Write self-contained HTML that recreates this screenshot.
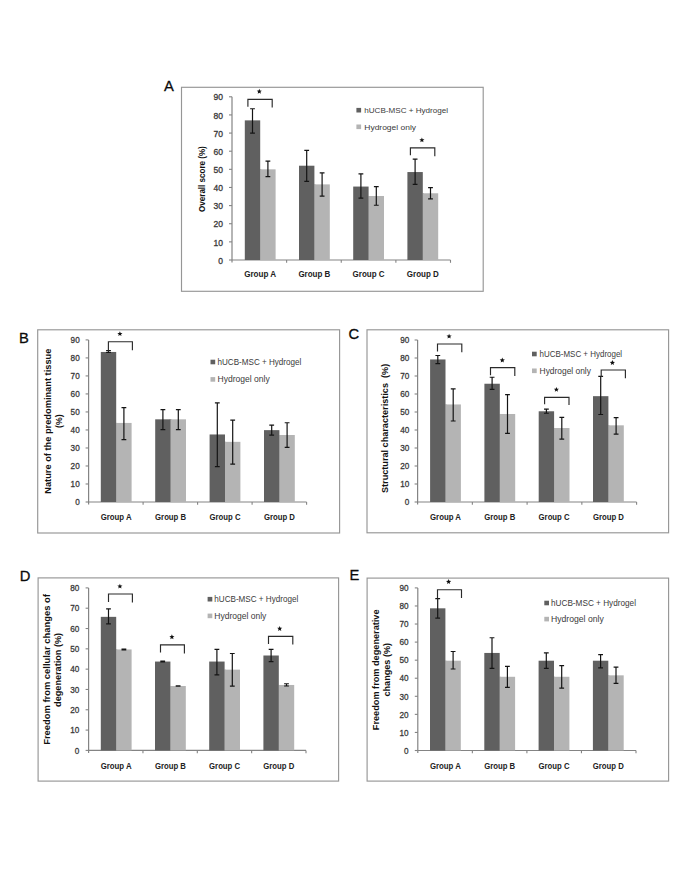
<!DOCTYPE html>
<html><head><meta charset="utf-8"><style>
html,body{margin:0;padding:0;background:#fff;width:685px;height:886px;overflow:hidden}
svg{display:block;font-family:"Liberation Sans", sans-serif}
</style></head><body>
<svg width="685" height="886" viewBox="0 0 685 886" font-family='"Liberation Sans", sans-serif'>
<rect width="685" height="886" fill="#fff"/>
<g><rect x="181.5" y="87.3" width="301.7" height="204" fill="none" stroke="#969696" stroke-width="1.15"/><text x="164" y="91.3" font-size="15.2" fill="#0a0a0a" stroke="#0a0a0a" stroke-width="0.3" textLength="9.83" lengthAdjust="spacingAndGlyphs">A</text><line x1="232" y1="96.8" x2="232" y2="262.5" stroke="#848484" stroke-width="1.2"/><line x1="229" y1="260" x2="232" y2="260" stroke="#848484" stroke-width="1.1"/><text x="222.9" y="263.65" font-size="8.2" fill="#3a3a3a" stroke="#3a3a3a" stroke-width="0.3" text-anchor="end" textLength="4.71" lengthAdjust="spacingAndGlyphs">0</text><line x1="229" y1="241.87" x2="232" y2="241.87" stroke="#848484" stroke-width="1.1"/><text x="222.9" y="245.52" font-size="8.2" fill="#3a3a3a" stroke="#3a3a3a" stroke-width="0.3" text-anchor="end" textLength="9.43" lengthAdjust="spacingAndGlyphs">10</text><line x1="229" y1="223.73" x2="232" y2="223.73" stroke="#848484" stroke-width="1.1"/><text x="222.9" y="227.39" font-size="8.2" fill="#3a3a3a" stroke="#3a3a3a" stroke-width="0.3" text-anchor="end" textLength="9.43" lengthAdjust="spacingAndGlyphs">20</text><line x1="229" y1="205.6" x2="232" y2="205.6" stroke="#848484" stroke-width="1.1"/><text x="222.9" y="209.25" font-size="8.2" fill="#3a3a3a" stroke="#3a3a3a" stroke-width="0.3" text-anchor="end" textLength="9.43" lengthAdjust="spacingAndGlyphs">30</text><line x1="229" y1="187.47" x2="232" y2="187.47" stroke="#848484" stroke-width="1.1"/><text x="222.9" y="191.12" font-size="8.2" fill="#3a3a3a" stroke="#3a3a3a" stroke-width="0.3" text-anchor="end" textLength="9.43" lengthAdjust="spacingAndGlyphs">40</text><line x1="229" y1="169.33" x2="232" y2="169.33" stroke="#848484" stroke-width="1.1"/><text x="222.9" y="172.99" font-size="8.2" fill="#3a3a3a" stroke="#3a3a3a" stroke-width="0.3" text-anchor="end" textLength="9.43" lengthAdjust="spacingAndGlyphs">50</text><line x1="229" y1="151.2" x2="232" y2="151.2" stroke="#848484" stroke-width="1.1"/><text x="222.9" y="154.85" font-size="8.2" fill="#3a3a3a" stroke="#3a3a3a" stroke-width="0.3" text-anchor="end" textLength="9.43" lengthAdjust="spacingAndGlyphs">60</text><line x1="229" y1="133.07" x2="232" y2="133.07" stroke="#848484" stroke-width="1.1"/><text x="222.9" y="136.72" font-size="8.2" fill="#3a3a3a" stroke="#3a3a3a" stroke-width="0.3" text-anchor="end" textLength="9.43" lengthAdjust="spacingAndGlyphs">70</text><line x1="229" y1="114.93" x2="232" y2="114.93" stroke="#848484" stroke-width="1.1"/><text x="222.9" y="118.59" font-size="8.2" fill="#3a3a3a" stroke="#3a3a3a" stroke-width="0.3" text-anchor="end" textLength="9.43" lengthAdjust="spacingAndGlyphs">80</text><line x1="229" y1="96.8" x2="232" y2="96.8" stroke="#848484" stroke-width="1.1"/><text x="222.9" y="100.45" font-size="8.2" fill="#3a3a3a" stroke="#3a3a3a" stroke-width="0.3" text-anchor="end" textLength="9.43" lengthAdjust="spacingAndGlyphs">90</text><line x1="232" y1="260" x2="450.5" y2="260" stroke="#848484" stroke-width="1.2"/><line x1="286.62" y1="260" x2="286.62" y2="262.8" stroke="#848484" stroke-width="1.1"/><line x1="341.25" y1="260" x2="341.25" y2="262.8" stroke="#848484" stroke-width="1.1"/><line x1="395.88" y1="260" x2="395.88" y2="262.8" stroke="#848484" stroke-width="1.1"/><line x1="450.5" y1="260" x2="450.5" y2="262.8" stroke="#848484" stroke-width="1.1"/><rect x="259.2" y="169.33" width="2" height="90.67" fill="#8a8a8a"/><rect x="244.8" y="120.37" width="15.4" height="139.63" fill="#606060"/><rect x="260.2" y="169.33" width="15.4" height="90.67" fill="#b4b4b4"/><path d="M252.5 108.77V133.07M250.1 108.77H254.9M250.1 133.07H254.9" stroke="#141414" stroke-width="1.2" fill="none"/><path d="M267.9 161.17V176.59M265.5 161.17H270.3M265.5 176.59H270.3" stroke="#141414" stroke-width="1.2" fill="none"/><text x="260.2" y="277" font-size="8.6" font-weight="bold" fill="#222" text-anchor="middle" textLength="32" lengthAdjust="spacingAndGlyphs">Group A</text><rect x="313.4" y="184.38" width="2" height="75.62" fill="#8a8a8a"/><rect x="299" y="165.71" width="15.4" height="94.29" fill="#606060"/><rect x="314.4" y="184.38" width="15.4" height="75.62" fill="#b4b4b4"/><path d="M306.7 150.47V181.3M304.3 150.47H309.1M304.3 181.3H309.1" stroke="#141414" stroke-width="1.2" fill="none"/><path d="M322.1 172.78V196.17M319.7 172.78H324.5M319.7 196.17H324.5" stroke="#141414" stroke-width="1.2" fill="none"/><text x="314.4" y="277" font-size="8.6" font-weight="bold" fill="#222" text-anchor="middle" textLength="32" lengthAdjust="spacingAndGlyphs">Group B</text><rect x="367.6" y="195.99" width="2" height="64.01" fill="#8a8a8a"/><rect x="353.2" y="186.56" width="15.4" height="73.44" fill="#606060"/><rect x="368.6" y="195.99" width="15.4" height="64.01" fill="#b4b4b4"/><path d="M360.9 173.87V198.17M358.5 173.87H363.3M358.5 198.17H363.3" stroke="#141414" stroke-width="1.2" fill="none"/><path d="M376.3 186.56V205.24M373.9 186.56H378.7M373.9 205.24H378.7" stroke="#141414" stroke-width="1.2" fill="none"/><text x="368.6" y="277" font-size="8.6" font-weight="bold" fill="#222" text-anchor="middle" textLength="32" lengthAdjust="spacingAndGlyphs">Group C</text><rect x="421.8" y="193.27" width="2" height="66.73" fill="#8a8a8a"/><rect x="407.4" y="172.05" width="15.4" height="87.95" fill="#606060"/><rect x="422.8" y="193.27" width="15.4" height="66.73" fill="#b4b4b4"/><path d="M415.1 159.18V184.38M412.7 159.18H417.5M412.7 184.38H417.5" stroke="#141414" stroke-width="1.2" fill="none"/><path d="M430.5 187.65V198.89M428.1 187.65H432.9M428.1 198.89H432.9" stroke="#141414" stroke-width="1.2" fill="none"/><text x="422.8" y="277" font-size="8.6" font-weight="bold" fill="#222" text-anchor="middle" textLength="32" lengthAdjust="spacingAndGlyphs">Group D</text><path d="M247.9 106.8V99.3H272.2V107.6" stroke="#2a2a2a" stroke-width="1.15" fill="none"/><polygon points="259.30,88.80 260.01,90.53 261.87,90.67 260.44,91.87 260.89,93.68 259.30,92.70 257.71,93.68 258.16,91.87 256.73,90.67 258.59,90.53" fill="#111"/><path d="M410.4 155.3V147.9H434.8V156.2" stroke="#2a2a2a" stroke-width="1.15" fill="none"/><polygon points="421.90,137.40 422.61,139.13 424.47,139.27 423.04,140.47 423.49,142.28 421.90,141.30 420.31,142.28 420.76,140.47 419.33,139.27 421.19,139.13" fill="#111"/><rect x="356.4" y="107.9" width="4.7" height="4.6" fill="#606060"/><rect x="356.4" y="124.5" width="4.7" height="4.6" fill="#b4b4b4"/><text x="364.3" y="112.9" font-size="7.6" fill="#3a3a3a" textLength="83.7" lengthAdjust="spacingAndGlyphs">hUCB-MSC + Hydrogel</text><text x="364.3" y="129.5" font-size="7.6" fill="#3a3a3a" textLength="51.7" lengthAdjust="spacingAndGlyphs">Hydrogel only</text><text transform="translate(204.6,179.1) rotate(-90)" x="0" y="0" font-size="8.4" font-weight="bold" fill="#111" text-anchor="middle" textLength="65.7" lengthAdjust="spacingAndGlyphs">Overall score (%)</text></g>
<g><rect x="37.7" y="329.8" width="301.9" height="203.2" fill="none" stroke="#969696" stroke-width="1.15"/><text x="18.9" y="342.8" font-size="15.2" fill="#0a0a0a" stroke="#0a0a0a" stroke-width="0.3" textLength="9.83" lengthAdjust="spacingAndGlyphs">B</text><line x1="88.6" y1="339.9" x2="88.6" y2="504.5" stroke="#848484" stroke-width="1.2"/><line x1="85.6" y1="502" x2="88.6" y2="502" stroke="#848484" stroke-width="1.1"/><text x="79.7" y="505.24" font-size="9" fill="#3a3a3a" stroke="#3a3a3a" stroke-width="0.3" text-anchor="end" textLength="4.54" lengthAdjust="spacingAndGlyphs">0</text><line x1="85.6" y1="483.99" x2="88.6" y2="483.99" stroke="#848484" stroke-width="1.1"/><text x="79.7" y="487.23" font-size="9" fill="#3a3a3a" stroke="#3a3a3a" stroke-width="0.3" text-anchor="end" textLength="9.09" lengthAdjust="spacingAndGlyphs">10</text><line x1="85.6" y1="465.98" x2="88.6" y2="465.98" stroke="#848484" stroke-width="1.1"/><text x="79.7" y="469.22" font-size="9" fill="#3a3a3a" stroke="#3a3a3a" stroke-width="0.3" text-anchor="end" textLength="9.09" lengthAdjust="spacingAndGlyphs">20</text><line x1="85.6" y1="447.97" x2="88.6" y2="447.97" stroke="#848484" stroke-width="1.1"/><text x="79.7" y="451.21" font-size="9" fill="#3a3a3a" stroke="#3a3a3a" stroke-width="0.3" text-anchor="end" textLength="9.09" lengthAdjust="spacingAndGlyphs">30</text><line x1="85.6" y1="429.96" x2="88.6" y2="429.96" stroke="#848484" stroke-width="1.1"/><text x="79.7" y="433.2" font-size="9" fill="#3a3a3a" stroke="#3a3a3a" stroke-width="0.3" text-anchor="end" textLength="9.09" lengthAdjust="spacingAndGlyphs">40</text><line x1="85.6" y1="411.94" x2="88.6" y2="411.94" stroke="#848484" stroke-width="1.1"/><text x="79.7" y="415.18" font-size="9" fill="#3a3a3a" stroke="#3a3a3a" stroke-width="0.3" text-anchor="end" textLength="9.09" lengthAdjust="spacingAndGlyphs">50</text><line x1="85.6" y1="393.93" x2="88.6" y2="393.93" stroke="#848484" stroke-width="1.1"/><text x="79.7" y="397.17" font-size="9" fill="#3a3a3a" stroke="#3a3a3a" stroke-width="0.3" text-anchor="end" textLength="9.09" lengthAdjust="spacingAndGlyphs">60</text><line x1="85.6" y1="375.92" x2="88.6" y2="375.92" stroke="#848484" stroke-width="1.1"/><text x="79.7" y="379.16" font-size="9" fill="#3a3a3a" stroke="#3a3a3a" stroke-width="0.3" text-anchor="end" textLength="9.09" lengthAdjust="spacingAndGlyphs">70</text><line x1="85.6" y1="357.91" x2="88.6" y2="357.91" stroke="#848484" stroke-width="1.1"/><text x="79.7" y="361.15" font-size="9" fill="#3a3a3a" stroke="#3a3a3a" stroke-width="0.3" text-anchor="end" textLength="9.09" lengthAdjust="spacingAndGlyphs">80</text><line x1="85.6" y1="339.9" x2="88.6" y2="339.9" stroke="#848484" stroke-width="1.1"/><text x="79.7" y="343.14" font-size="9" fill="#3a3a3a" stroke="#3a3a3a" stroke-width="0.3" text-anchor="end" textLength="9.09" lengthAdjust="spacingAndGlyphs">90</text><line x1="88.6" y1="502" x2="306.6" y2="502" stroke="#848484" stroke-width="1.2"/><line x1="143.1" y1="502" x2="143.1" y2="504.8" stroke="#848484" stroke-width="1.1"/><line x1="197.6" y1="502" x2="197.6" y2="504.8" stroke="#848484" stroke-width="1.1"/><line x1="252.1" y1="502" x2="252.1" y2="504.8" stroke="#848484" stroke-width="1.1"/><line x1="306.6" y1="502" x2="306.6" y2="504.8" stroke="#848484" stroke-width="1.1"/><rect x="115.2" y="422.93" width="2" height="79.07" fill="#8a8a8a"/><rect x="100.8" y="351.97" width="15.4" height="150.03" fill="#606060"/><rect x="116.2" y="422.93" width="15.4" height="79.07" fill="#b4b4b4"/><path d="M108.5 350.71V352.51M106.1 350.71H110.9M106.1 352.51H110.9" stroke="#141414" stroke-width="1.2" fill="none"/><path d="M123.9 407.62V439.68M121.5 407.62H126.3M121.5 439.68H126.3" stroke="#141414" stroke-width="1.2" fill="none"/><text x="116.2" y="520.1" font-size="8.6" font-weight="bold" fill="#222" text-anchor="middle" textLength="31" lengthAdjust="spacingAndGlyphs">Group A</text><rect x="169.6" y="419.33" width="2" height="82.67" fill="#8a8a8a"/><rect x="155.2" y="419.33" width="15.4" height="82.67" fill="#606060"/><rect x="170.6" y="419.33" width="15.4" height="82.67" fill="#b4b4b4"/><path d="M162.9 409.6V429.6M160.5 409.6H165.3M160.5 429.6H165.3" stroke="#141414" stroke-width="1.2" fill="none"/><path d="M178.3 409.6V429.6M175.9 409.6H180.7M175.9 429.6H180.7" stroke="#141414" stroke-width="1.2" fill="none"/><text x="170.6" y="520.1" font-size="8.6" font-weight="bold" fill="#222" text-anchor="middle" textLength="31" lengthAdjust="spacingAndGlyphs">Group B</text><rect x="224" y="441.84" width="2" height="60.16" fill="#8a8a8a"/><rect x="209.6" y="434.46" width="15.4" height="67.54" fill="#606060"/><rect x="225" y="441.84" width="15.4" height="60.16" fill="#b4b4b4"/><path d="M217.3 402.94V466.7M214.9 402.94H219.7M214.9 466.7H219.7" stroke="#141414" stroke-width="1.2" fill="none"/><path d="M232.7 420.05V464.18M230.3 420.05H235.1M230.3 464.18H235.1" stroke="#141414" stroke-width="1.2" fill="none"/><text x="225" y="520.1" font-size="8.6" font-weight="bold" fill="#222" text-anchor="middle" textLength="31" lengthAdjust="spacingAndGlyphs">Group C</text><rect x="278.4" y="435" width="2" height="67" fill="#8a8a8a"/><rect x="264" y="430.14" width="15.4" height="71.86" fill="#606060"/><rect x="279.4" y="435" width="15.4" height="67" fill="#b4b4b4"/><path d="M271.7 425.09V435.18M269.3 425.09H274.1M269.3 435.18H274.1" stroke="#141414" stroke-width="1.2" fill="none"/><path d="M287.1 422.75V447.43M284.7 422.75H289.5M284.7 447.43H289.5" stroke="#141414" stroke-width="1.2" fill="none"/><text x="279.4" y="520.1" font-size="8.6" font-weight="bold" fill="#222" text-anchor="middle" textLength="31" lengthAdjust="spacingAndGlyphs">Group D</text><path d="M108.4 351.5V341.7H132.4V350.2" stroke="#2a2a2a" stroke-width="1.15" fill="none"/><polygon points="119.90,331.20 120.61,332.93 122.47,333.07 121.04,334.27 121.49,336.08 119.90,335.10 118.31,336.08 118.76,334.27 117.33,333.07 119.19,332.93" fill="#111"/><rect x="210.5" y="359.7" width="4.7" height="4.6" fill="#606060"/><rect x="210.5" y="377.1" width="4.7" height="4.6" fill="#b4b4b4"/><text x="217.5" y="364.7" font-size="8.6" fill="#3a3a3a" textLength="83.8" lengthAdjust="spacingAndGlyphs">hUCB-MSC + Hydrogel</text><text x="217.5" y="382.1" font-size="8.6" fill="#3a3a3a" textLength="52.2" lengthAdjust="spacingAndGlyphs">Hydrogel only</text><text transform="translate(50.6,421.2) rotate(-90)" x="0" y="0" font-size="8.4" font-weight="bold" fill="#111" text-anchor="middle" textLength="145.1" lengthAdjust="spacingAndGlyphs">Nature of the predominant tissue</text><text transform="translate(61.6,421.2) rotate(-90)" x="0" y="0" font-size="8.4" font-weight="bold" fill="#111" text-anchor="middle" textLength="13.4" lengthAdjust="spacingAndGlyphs">(%)</text></g>
<g><rect x="367" y="329.8" width="301.6" height="203" fill="none" stroke="#969696" stroke-width="1.15"/><text x="348.6" y="339.2" font-size="15.2" fill="#0a0a0a" stroke="#0a0a0a" stroke-width="0.3" textLength="10.65" lengthAdjust="spacingAndGlyphs">C</text><line x1="417.6" y1="340" x2="417.6" y2="504.5" stroke="#848484" stroke-width="1.2"/><line x1="414.6" y1="502" x2="417.6" y2="502" stroke="#848484" stroke-width="1.1"/><text x="409.3" y="505.24" font-size="9" fill="#3a3a3a" stroke="#3a3a3a" stroke-width="0.3" text-anchor="end" textLength="4.54" lengthAdjust="spacingAndGlyphs">0</text><line x1="414.6" y1="484" x2="417.6" y2="484" stroke="#848484" stroke-width="1.1"/><text x="409.3" y="487.24" font-size="9" fill="#3a3a3a" stroke="#3a3a3a" stroke-width="0.3" text-anchor="end" textLength="9.09" lengthAdjust="spacingAndGlyphs">10</text><line x1="414.6" y1="466" x2="417.6" y2="466" stroke="#848484" stroke-width="1.1"/><text x="409.3" y="469.24" font-size="9" fill="#3a3a3a" stroke="#3a3a3a" stroke-width="0.3" text-anchor="end" textLength="9.09" lengthAdjust="spacingAndGlyphs">20</text><line x1="414.6" y1="448" x2="417.6" y2="448" stroke="#848484" stroke-width="1.1"/><text x="409.3" y="451.24" font-size="9" fill="#3a3a3a" stroke="#3a3a3a" stroke-width="0.3" text-anchor="end" textLength="9.09" lengthAdjust="spacingAndGlyphs">30</text><line x1="414.6" y1="430" x2="417.6" y2="430" stroke="#848484" stroke-width="1.1"/><text x="409.3" y="433.24" font-size="9" fill="#3a3a3a" stroke="#3a3a3a" stroke-width="0.3" text-anchor="end" textLength="9.09" lengthAdjust="spacingAndGlyphs">40</text><line x1="414.6" y1="412" x2="417.6" y2="412" stroke="#848484" stroke-width="1.1"/><text x="409.3" y="415.24" font-size="9" fill="#3a3a3a" stroke="#3a3a3a" stroke-width="0.3" text-anchor="end" textLength="9.09" lengthAdjust="spacingAndGlyphs">50</text><line x1="414.6" y1="394" x2="417.6" y2="394" stroke="#848484" stroke-width="1.1"/><text x="409.3" y="397.24" font-size="9" fill="#3a3a3a" stroke="#3a3a3a" stroke-width="0.3" text-anchor="end" textLength="9.09" lengthAdjust="spacingAndGlyphs">60</text><line x1="414.6" y1="376" x2="417.6" y2="376" stroke="#848484" stroke-width="1.1"/><text x="409.3" y="379.24" font-size="9" fill="#3a3a3a" stroke="#3a3a3a" stroke-width="0.3" text-anchor="end" textLength="9.09" lengthAdjust="spacingAndGlyphs">70</text><line x1="414.6" y1="358" x2="417.6" y2="358" stroke="#848484" stroke-width="1.1"/><text x="409.3" y="361.24" font-size="9" fill="#3a3a3a" stroke="#3a3a3a" stroke-width="0.3" text-anchor="end" textLength="9.09" lengthAdjust="spacingAndGlyphs">80</text><line x1="414.6" y1="340" x2="417.6" y2="340" stroke="#848484" stroke-width="1.1"/><text x="409.3" y="343.24" font-size="9" fill="#3a3a3a" stroke="#3a3a3a" stroke-width="0.3" text-anchor="end" textLength="9.09" lengthAdjust="spacingAndGlyphs">90</text><line x1="417.6" y1="502" x2="636.6" y2="502" stroke="#848484" stroke-width="1.2"/><line x1="472.35" y1="502" x2="472.35" y2="504.8" stroke="#848484" stroke-width="1.1"/><line x1="527.1" y1="502" x2="527.1" y2="504.8" stroke="#848484" stroke-width="1.1"/><line x1="581.85" y1="502" x2="581.85" y2="504.8" stroke="#848484" stroke-width="1.1"/><line x1="636.6" y1="502" x2="636.6" y2="504.8" stroke="#848484" stroke-width="1.1"/><rect x="444.5" y="404.44" width="2" height="97.56" fill="#8a8a8a"/><rect x="430.1" y="359.44" width="15.4" height="142.56" fill="#606060"/><rect x="445.5" y="404.44" width="15.4" height="97.56" fill="#b4b4b4"/><path d="M437.8 355.48V363.58M435.4 355.48H440.2M435.4 363.58H440.2" stroke="#141414" stroke-width="1.2" fill="none"/><path d="M453.2 388.78V421M450.8 388.78H455.6M450.8 421H455.6" stroke="#141414" stroke-width="1.2" fill="none"/><text x="445.5" y="519.8" font-size="8.6" font-weight="bold" fill="#222" text-anchor="middle" textLength="31" lengthAdjust="spacingAndGlyphs">Group A</text><rect x="498.8" y="413.98" width="2" height="88.02" fill="#8a8a8a"/><rect x="484.4" y="383.74" width="15.4" height="118.26" fill="#606060"/><rect x="499.8" y="413.98" width="15.4" height="88.02" fill="#b4b4b4"/><path d="M492.1 377.26V389.32M489.7 377.26H494.5M489.7 389.32H494.5" stroke="#141414" stroke-width="1.2" fill="none"/><path d="M507.5 394.72V433.42M505.1 394.72H509.9M505.1 433.42H509.9" stroke="#141414" stroke-width="1.2" fill="none"/><text x="499.8" y="519.8" font-size="8.6" font-weight="bold" fill="#222" text-anchor="middle" textLength="31" lengthAdjust="spacingAndGlyphs">Group B</text><rect x="553.1" y="428.02" width="2" height="73.98" fill="#8a8a8a"/><rect x="538.7" y="411.28" width="15.4" height="90.72" fill="#606060"/><rect x="554.1" y="428.02" width="15.4" height="73.98" fill="#b4b4b4"/><path d="M546.4 409.12V413.26M544 409.12H548.8M544 413.26H548.8" stroke="#141414" stroke-width="1.2" fill="none"/><path d="M561.8 417.4V439.18M559.4 417.4H564.2M559.4 439.18H564.2" stroke="#141414" stroke-width="1.2" fill="none"/><text x="554.1" y="519.8" font-size="8.6" font-weight="bold" fill="#222" text-anchor="middle" textLength="31" lengthAdjust="spacingAndGlyphs">Group C</text><rect x="607.4" y="425.32" width="2" height="76.68" fill="#8a8a8a"/><rect x="593" y="396.16" width="15.4" height="105.84" fill="#606060"/><rect x="608.4" y="425.32" width="15.4" height="76.68" fill="#b4b4b4"/><path d="M600.7 376.36V414.52M598.3 376.36H603.1M598.3 414.52H603.1" stroke="#141414" stroke-width="1.2" fill="none"/><path d="M616.1 417.58V434.14M613.7 417.58H618.5M613.7 434.14H618.5" stroke="#141414" stroke-width="1.2" fill="none"/><text x="608.4" y="519.8" font-size="8.6" font-weight="bold" fill="#222" text-anchor="middle" textLength="31" lengthAdjust="spacingAndGlyphs">Group D</text><path d="M437.5 351.6V344H461.8V352.2" stroke="#2a2a2a" stroke-width="1.15" fill="none"/><polygon points="449.10,333.70 449.81,335.43 451.67,335.57 450.24,336.77 450.69,338.58 449.10,337.60 447.51,338.58 447.96,336.77 446.53,335.57 448.39,335.43" fill="#111"/><path d="M490.5 375.2V367.6H514.8V376" stroke="#2a2a2a" stroke-width="1.15" fill="none"/><polygon points="502.30,357.60 503.01,359.33 504.87,359.47 503.44,360.67 503.89,362.48 502.30,361.50 500.71,362.48 501.16,360.67 499.73,359.47 501.59,359.33" fill="#111"/><path d="M544.6 404.3V397.3H569V405.1" stroke="#2a2a2a" stroke-width="1.15" fill="none"/><polygon points="556.40,386.90 557.11,388.63 558.97,388.77 557.54,389.97 557.99,391.78 556.40,390.80 554.81,391.78 555.26,389.97 553.83,388.77 555.69,388.63" fill="#111"/><path d="M601.2 377V370H625.4V378.2" stroke="#2a2a2a" stroke-width="1.15" fill="none"/><polygon points="612.40,360.10 613.11,361.83 614.97,361.97 613.54,363.17 613.99,364.98 612.40,364.00 610.81,364.98 611.26,363.17 609.83,361.97 611.69,361.83" fill="#111"/><rect x="532" y="351.7" width="4.7" height="4.6" fill="#606060"/><rect x="532" y="368.5" width="4.7" height="4.6" fill="#b4b4b4"/><text x="539.6" y="356.7" font-size="8.6" fill="#3a3a3a" textLength="82.5" lengthAdjust="spacingAndGlyphs">hUCB-MSC + Hydrogel</text><text x="539.6" y="373.5" font-size="8.6" fill="#3a3a3a" textLength="51.3" lengthAdjust="spacingAndGlyphs">Hydrogel only</text><text transform="translate(387.5,428.4) rotate(-90)" x="0" y="0" font-size="8.4" font-weight="bold" fill="#111" text-anchor="middle" textLength="129.2" lengthAdjust="spacingAndGlyphs">Structural characteristics&#160; (%)</text></g>
<g><rect x="38.1" y="577.9" width="300.5" height="203.2" fill="none" stroke="#969696" stroke-width="1.15"/><text x="19.8" y="581.3" font-size="15.2" fill="#0a0a0a" stroke="#0a0a0a" stroke-width="0.3" textLength="10.65" lengthAdjust="spacingAndGlyphs">D</text><line x1="88.6" y1="587.9" x2="88.6" y2="752.9" stroke="#848484" stroke-width="1.2"/><line x1="85.6" y1="750.4" x2="88.6" y2="750.4" stroke="#848484" stroke-width="1.1"/><text x="79.3" y="753.64" font-size="9" fill="#3a3a3a" stroke="#3a3a3a" stroke-width="0.3" text-anchor="end" textLength="4.54" lengthAdjust="spacingAndGlyphs">0</text><line x1="85.6" y1="730.09" x2="88.6" y2="730.09" stroke="#848484" stroke-width="1.1"/><text x="79.3" y="733.33" font-size="9" fill="#3a3a3a" stroke="#3a3a3a" stroke-width="0.3" text-anchor="end" textLength="9.09" lengthAdjust="spacingAndGlyphs">10</text><line x1="85.6" y1="709.77" x2="88.6" y2="709.77" stroke="#848484" stroke-width="1.1"/><text x="79.3" y="713.01" font-size="9" fill="#3a3a3a" stroke="#3a3a3a" stroke-width="0.3" text-anchor="end" textLength="9.09" lengthAdjust="spacingAndGlyphs">20</text><line x1="85.6" y1="689.46" x2="88.6" y2="689.46" stroke="#848484" stroke-width="1.1"/><text x="79.3" y="692.7" font-size="9" fill="#3a3a3a" stroke="#3a3a3a" stroke-width="0.3" text-anchor="end" textLength="9.09" lengthAdjust="spacingAndGlyphs">30</text><line x1="85.6" y1="669.15" x2="88.6" y2="669.15" stroke="#848484" stroke-width="1.1"/><text x="79.3" y="672.39" font-size="9" fill="#3a3a3a" stroke="#3a3a3a" stroke-width="0.3" text-anchor="end" textLength="9.09" lengthAdjust="spacingAndGlyphs">40</text><line x1="85.6" y1="648.84" x2="88.6" y2="648.84" stroke="#848484" stroke-width="1.1"/><text x="79.3" y="652.08" font-size="9" fill="#3a3a3a" stroke="#3a3a3a" stroke-width="0.3" text-anchor="end" textLength="9.09" lengthAdjust="spacingAndGlyphs">50</text><line x1="85.6" y1="628.52" x2="88.6" y2="628.52" stroke="#848484" stroke-width="1.1"/><text x="79.3" y="631.76" font-size="9" fill="#3a3a3a" stroke="#3a3a3a" stroke-width="0.3" text-anchor="end" textLength="9.09" lengthAdjust="spacingAndGlyphs">60</text><line x1="85.6" y1="608.21" x2="88.6" y2="608.21" stroke="#848484" stroke-width="1.1"/><text x="79.3" y="611.45" font-size="9" fill="#3a3a3a" stroke="#3a3a3a" stroke-width="0.3" text-anchor="end" textLength="9.09" lengthAdjust="spacingAndGlyphs">70</text><line x1="85.6" y1="587.9" x2="88.6" y2="587.9" stroke="#848484" stroke-width="1.1"/><text x="79.3" y="591.14" font-size="9" fill="#3a3a3a" stroke="#3a3a3a" stroke-width="0.3" text-anchor="end" textLength="9.09" lengthAdjust="spacingAndGlyphs">80</text><line x1="88.6" y1="750.4" x2="306" y2="750.4" stroke="#848484" stroke-width="1.2"/><line x1="142.95" y1="750.4" x2="142.95" y2="753.2" stroke="#848484" stroke-width="1.1"/><line x1="197.3" y1="750.4" x2="197.3" y2="753.2" stroke="#848484" stroke-width="1.1"/><line x1="251.65" y1="750.4" x2="251.65" y2="753.2" stroke="#848484" stroke-width="1.1"/><line x1="306" y1="750.4" x2="306" y2="753.2" stroke="#848484" stroke-width="1.1"/><rect x="115.2" y="649.45" width="2" height="100.95" fill="#8a8a8a"/><rect x="100.8" y="616.85" width="15.4" height="133.55" fill="#606060"/><rect x="116.2" y="649.45" width="15.4" height="100.95" fill="#b4b4b4"/><path d="M108.5 608.86V623.81M106.1 608.86H110.9M106.1 623.81H110.9" stroke="#141414" stroke-width="1.2" fill="none"/><path d="M123.9 649.04V649.85M121.5 649.04H126.3M121.5 649.85H126.3" stroke="#141414" stroke-width="1.2" fill="none"/><text x="116.2" y="768.6" font-size="8.6" font-weight="bold" fill="#222" text-anchor="middle" textLength="31" lengthAdjust="spacingAndGlyphs">Group A</text><rect x="169.4" y="685.99" width="2" height="64.41" fill="#8a8a8a"/><rect x="155" y="661.55" width="15.4" height="88.85" fill="#606060"/><rect x="170.4" y="685.99" width="15.4" height="64.41" fill="#b4b4b4"/><path d="M162.7 661.17V661.96M160.3 661.17H165.1M160.3 661.96H165.1" stroke="#141414" stroke-width="1.2" fill="none"/><path d="M178.1 685.79V686.19M175.7 685.79H180.5M175.7 686.19H180.5" stroke="#141414" stroke-width="1.2" fill="none"/><text x="170.4" y="768.6" font-size="8.6" font-weight="bold" fill="#222" text-anchor="middle" textLength="31" lengthAdjust="spacingAndGlyphs">Group B</text><rect x="223.6" y="669.64" width="2" height="80.76" fill="#8a8a8a"/><rect x="209.2" y="661.55" width="15.4" height="88.85" fill="#606060"/><rect x="224.6" y="669.64" width="15.4" height="80.76" fill="#b4b4b4"/><path d="M216.9 649.45V674.88M214.5 649.45H219.3M214.5 674.88H219.3" stroke="#141414" stroke-width="1.2" fill="none"/><path d="M232.3 653.49V686.19M229.9 653.49H234.7M229.9 686.19H234.7" stroke="#141414" stroke-width="1.2" fill="none"/><text x="224.6" y="768.6" font-size="8.6" font-weight="bold" fill="#222" text-anchor="middle" textLength="31" lengthAdjust="spacingAndGlyphs">Group C</text><rect x="277.8" y="684.97" width="2" height="65.43" fill="#8a8a8a"/><rect x="263.4" y="655.5" width="15.4" height="94.9" fill="#606060"/><rect x="278.8" y="684.97" width="15.4" height="65.43" fill="#b4b4b4"/><path d="M271.1 649.45V661.55M268.7 649.45H273.5M268.7 661.55H273.5" stroke="#141414" stroke-width="1.2" fill="none"/><path d="M286.5 683.77V685.99M284.1 683.77H288.9M284.1 685.99H288.9" stroke="#141414" stroke-width="1.2" fill="none"/><text x="278.8" y="768.6" font-size="8.6" font-weight="bold" fill="#222" text-anchor="middle" textLength="31" lengthAdjust="spacingAndGlyphs">Group D</text><path d="M108.5 601.9V594H132.4V602.5" stroke="#2a2a2a" stroke-width="1.15" fill="none"/><polygon points="119.90,583.70 120.61,585.43 122.47,585.57 121.04,586.77 121.49,588.58 119.90,587.60 118.31,588.58 118.76,586.77 117.33,585.57 119.19,585.43" fill="#111"/><path d="M160.5 652.5V644.9H184.4V653.4" stroke="#2a2a2a" stroke-width="1.15" fill="none"/><polygon points="171.90,634.30 172.61,636.03 174.47,636.17 173.04,637.37 173.49,639.18 171.90,638.20 170.31,639.18 170.76,637.37 169.33,636.17 171.19,636.03" fill="#111"/><path d="M268.5 643.9V636.3H292.8V644.5" stroke="#2a2a2a" stroke-width="1.15" fill="none"/><polygon points="279.70,626.00 280.41,627.73 282.27,627.87 280.84,629.07 281.29,630.88 279.70,629.90 278.11,630.88 278.56,629.07 277.13,627.87 278.99,627.73" fill="#111"/><rect x="207.6" y="596.9" width="4.7" height="4.6" fill="#606060"/><rect x="207.6" y="613.6" width="4.7" height="4.6" fill="#b4b4b4"/><text x="214.3" y="601.9" font-size="8.6" fill="#3a3a3a" textLength="83.9" lengthAdjust="spacingAndGlyphs">hUCB-MSC + Hydrogel</text><text x="214.3" y="618.6" font-size="8.6" fill="#3a3a3a" textLength="52" lengthAdjust="spacingAndGlyphs">Hydrogel only</text><text transform="translate(50.3,669.5) rotate(-90)" x="0" y="0" font-size="8.4" font-weight="bold" fill="#111" text-anchor="middle" textLength="150.7" lengthAdjust="spacingAndGlyphs">Freedom from cellular changes of</text><text transform="translate(60.7,669.9) rotate(-90)" x="0" y="0" font-size="8.4" font-weight="bold" fill="#111" text-anchor="middle" textLength="74" lengthAdjust="spacingAndGlyphs">degeneration (%)</text></g>
<g><rect x="367.1" y="578.1" width="301.5" height="203" fill="none" stroke="#969696" stroke-width="1.15"/><text x="349.6" y="580.1" font-size="15.2" fill="#0a0a0a" stroke="#0a0a0a" stroke-width="0.3" textLength="9.83" lengthAdjust="spacingAndGlyphs">E</text><line x1="417.8" y1="587.9" x2="417.8" y2="753" stroke="#848484" stroke-width="1.2"/><line x1="414.8" y1="750.5" x2="417.8" y2="750.5" stroke="#848484" stroke-width="1.1"/><text x="408.6" y="753.74" font-size="9" fill="#3a3a3a" stroke="#3a3a3a" stroke-width="0.3" text-anchor="end" textLength="4.54" lengthAdjust="spacingAndGlyphs">0</text><line x1="414.8" y1="732.43" x2="417.8" y2="732.43" stroke="#848484" stroke-width="1.1"/><text x="408.6" y="735.67" font-size="9" fill="#3a3a3a" stroke="#3a3a3a" stroke-width="0.3" text-anchor="end" textLength="9.09" lengthAdjust="spacingAndGlyphs">10</text><line x1="414.8" y1="714.37" x2="417.8" y2="714.37" stroke="#848484" stroke-width="1.1"/><text x="408.6" y="717.61" font-size="9" fill="#3a3a3a" stroke="#3a3a3a" stroke-width="0.3" text-anchor="end" textLength="9.09" lengthAdjust="spacingAndGlyphs">20</text><line x1="414.8" y1="696.3" x2="417.8" y2="696.3" stroke="#848484" stroke-width="1.1"/><text x="408.6" y="699.54" font-size="9" fill="#3a3a3a" stroke="#3a3a3a" stroke-width="0.3" text-anchor="end" textLength="9.09" lengthAdjust="spacingAndGlyphs">30</text><line x1="414.8" y1="678.23" x2="417.8" y2="678.23" stroke="#848484" stroke-width="1.1"/><text x="408.6" y="681.47" font-size="9" fill="#3a3a3a" stroke="#3a3a3a" stroke-width="0.3" text-anchor="end" textLength="9.09" lengthAdjust="spacingAndGlyphs">40</text><line x1="414.8" y1="660.17" x2="417.8" y2="660.17" stroke="#848484" stroke-width="1.1"/><text x="408.6" y="663.41" font-size="9" fill="#3a3a3a" stroke="#3a3a3a" stroke-width="0.3" text-anchor="end" textLength="9.09" lengthAdjust="spacingAndGlyphs">50</text><line x1="414.8" y1="642.1" x2="417.8" y2="642.1" stroke="#848484" stroke-width="1.1"/><text x="408.6" y="645.34" font-size="9" fill="#3a3a3a" stroke="#3a3a3a" stroke-width="0.3" text-anchor="end" textLength="9.09" lengthAdjust="spacingAndGlyphs">60</text><line x1="414.8" y1="624.03" x2="417.8" y2="624.03" stroke="#848484" stroke-width="1.1"/><text x="408.6" y="627.27" font-size="9" fill="#3a3a3a" stroke="#3a3a3a" stroke-width="0.3" text-anchor="end" textLength="9.09" lengthAdjust="spacingAndGlyphs">70</text><line x1="414.8" y1="605.97" x2="417.8" y2="605.97" stroke="#848484" stroke-width="1.1"/><text x="408.6" y="609.21" font-size="9" fill="#3a3a3a" stroke="#3a3a3a" stroke-width="0.3" text-anchor="end" textLength="9.09" lengthAdjust="spacingAndGlyphs">80</text><line x1="414.8" y1="587.9" x2="417.8" y2="587.9" stroke="#848484" stroke-width="1.1"/><text x="408.6" y="591.14" font-size="9" fill="#3a3a3a" stroke="#3a3a3a" stroke-width="0.3" text-anchor="end" textLength="9.09" lengthAdjust="spacingAndGlyphs">90</text><line x1="417.8" y1="750.5" x2="636" y2="750.5" stroke="#848484" stroke-width="1.2"/><line x1="472.35" y1="750.5" x2="472.35" y2="753.3" stroke="#848484" stroke-width="1.1"/><line x1="526.9" y1="750.5" x2="526.9" y2="753.3" stroke="#848484" stroke-width="1.1"/><line x1="581.45" y1="750.5" x2="581.45" y2="753.3" stroke="#848484" stroke-width="1.1"/><line x1="636" y1="750.5" x2="636" y2="753.3" stroke="#848484" stroke-width="1.1"/><rect x="444.4" y="660.71" width="2" height="89.79" fill="#8a8a8a"/><rect x="430" y="608.32" width="15.4" height="142.18" fill="#606060"/><rect x="445.4" y="660.71" width="15.4" height="89.79" fill="#b4b4b4"/><path d="M437.7 598.56V618.07M435.3 598.56H440.1M435.3 618.07H440.1" stroke="#141414" stroke-width="1.2" fill="none"/><path d="M453.1 651.49V669.02M450.7 651.49H455.5M450.7 669.02H455.5" stroke="#141414" stroke-width="1.2" fill="none"/><text x="445.4" y="768.6" font-size="8.6" font-weight="bold" fill="#222" text-anchor="middle" textLength="31" lengthAdjust="spacingAndGlyphs">Group A</text><rect x="498.7" y="676.79" width="2" height="73.71" fill="#8a8a8a"/><rect x="484.3" y="652.94" width="15.4" height="97.56" fill="#606060"/><rect x="499.7" y="676.79" width="15.4" height="73.71" fill="#b4b4b4"/><path d="M492 637.76V668.3M489.6 637.76H494.4M489.6 668.3H494.4" stroke="#141414" stroke-width="1.2" fill="none"/><path d="M507.4 666.31V687.45M505 666.31H509.8M505 687.45H509.8" stroke="#141414" stroke-width="1.2" fill="none"/><text x="499.7" y="768.6" font-size="8.6" font-weight="bold" fill="#222" text-anchor="middle" textLength="31" lengthAdjust="spacingAndGlyphs">Group B</text><rect x="553" y="676.79" width="2" height="73.71" fill="#8a8a8a"/><rect x="538.6" y="660.71" width="15.4" height="89.79" fill="#606060"/><rect x="554" y="676.79" width="15.4" height="73.71" fill="#b4b4b4"/><path d="M546.3 652.94V668.3M543.9 652.94H548.7M543.9 668.3H548.7" stroke="#141414" stroke-width="1.2" fill="none"/><path d="M561.7 665.59V688.17M559.3 665.59H564.1M559.3 688.17H564.1" stroke="#141414" stroke-width="1.2" fill="none"/><text x="554" y="768.6" font-size="8.6" font-weight="bold" fill="#222" text-anchor="middle" textLength="31" lengthAdjust="spacingAndGlyphs">Group C</text><rect x="607.3" y="675.34" width="2" height="75.16" fill="#8a8a8a"/><rect x="592.9" y="660.71" width="15.4" height="89.79" fill="#606060"/><rect x="608.3" y="675.34" width="15.4" height="75.16" fill="#b4b4b4"/><path d="M600.6 654.57V667.94M598.2 654.57H603M598.2 667.94H603" stroke="#141414" stroke-width="1.2" fill="none"/><path d="M616 667.03V683.47M613.6 667.03H618.4M613.6 683.47H618.4" stroke="#141414" stroke-width="1.2" fill="none"/><text x="608.3" y="768.6" font-size="8.6" font-weight="bold" fill="#222" text-anchor="middle" textLength="31" lengthAdjust="spacingAndGlyphs">Group D</text><path d="M437.5 598.5V589.7H461.5V598" stroke="#2a2a2a" stroke-width="1.15" fill="none"/><polygon points="448.60,579.10 449.31,580.83 451.17,580.97 449.74,582.17 450.19,583.98 448.60,583.00 447.01,583.98 447.46,582.17 446.03,580.97 447.89,580.83" fill="#111"/><rect x="544.3" y="600.7" width="4.7" height="4.6" fill="#606060"/><rect x="544.3" y="616.8" width="4.7" height="4.6" fill="#b4b4b4"/><text x="551" y="605.7" font-size="8.6" fill="#3a3a3a" textLength="85" lengthAdjust="spacingAndGlyphs">hUCB-MSC + Hydrogel</text><text x="551" y="621.8" font-size="8.6" fill="#3a3a3a" textLength="52.7" lengthAdjust="spacingAndGlyphs">Hydrogel only</text><text transform="translate(379.2,669.8) rotate(-90)" x="0" y="0" font-size="8.4" font-weight="bold" fill="#111" text-anchor="middle" textLength="120.7" lengthAdjust="spacingAndGlyphs">Freedom from degenerative</text><text transform="translate(389.6,669.7) rotate(-90)" x="0" y="0" font-size="8.4" font-weight="bold" fill="#111" text-anchor="middle" textLength="53.6" lengthAdjust="spacingAndGlyphs">changes (%)</text></g>
</svg></body></html>
